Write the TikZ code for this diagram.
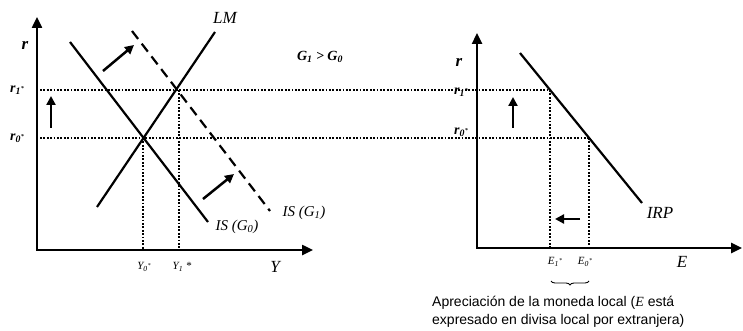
\documentclass[tikz,border=0pt]{standalone}
\usepackage{fontspec}
\setmainfont{Liberation Serif}
\setsansfont{Liberation Sans}
\usepackage{tikz}
\usetikzlibrary{positioning, arrows.meta, calc, decorations.pathreplacing}

\newcommand{\estr}{\raisebox{2pt}{\fontsize{6}{6}\selectfont*}}

\begin{document}
\begin{tikzpicture}[x=1pt, y=-1pt,
  axis/.style={line width=2.4pt, line join=miter, {Triangle[length=11pt, width=10pt]}-{Triangle[length=11pt, width=10pt]}},
  curve/.style={line width=2.2pt},
  shifted/.style={line width=2.2pt, dash pattern=on 10pt off 6pt},
  guide/.style={line width=2pt, dash pattern=on 1.8pt off 1.6pt},
  move/.style={line width=2.5pt, -{Triangle[length=9pt, width=9pt]}},
  lbl/.style={inner sep=0pt, font=\fontsize{15}{15}\selectfont\itshape},
  biglbl/.style={inner sep=0pt, font=\fontsize{17}{17}\selectfont\itshape},
  axlbl/.style={inner sep=0pt, font=\fontsize{17}{17}\selectfont\bfseries\itshape},
  lvl/.style={inner sep=0pt, font=\fontsize{14}{14}\selectfont\bfseries\itshape},
  tick/.style={inner sep=0pt, font=\fontsize{11}{11}\selectfont\itshape}]
    \useasboundingbox (0,0) rectangle (743,331);

    % Ejes IS-LM
    \coordinate (T1) at (37,17);
    \coordinate (X1) at (313,250);
    \draw[axis] (T1) |- (X1);
    \node[axlbl] (rA) at (25,45) {r};
    \node[biglbl] (Ylbl) at (275,267) {Y};

    % Ejes IRP
    \coordinate (T2) at (477,33);
    \coordinate (X2) at (742,248);
    \draw[axis] (T2) |- (X2);
    \node[axlbl] (rB) at (459,62) {r};
    \node[biglbl] (Elbl) at (682,262) {E};

    % Curvas
    \coordinate (LMa) at (97,207);
    \coordinate (LMb) at (215,32);
    \coordinate (ISa) at (70,42);
    \coordinate (ISb) at (208,222);
    \coordinate (ISc) at (132,31);
    \coordinate (ISd) at (270,211);
    \coordinate (IRPa) at (520,53);
    \coordinate (IRPb) at (642,203);
    \draw[curve] (LMa) -- (LMb);
    \draw[curve] (ISa) -- (ISb);
    \draw[shifted] (ISc) -- (ISd);
    \draw[curve] (IRPa) -- (IRPb);
    \node[biglbl] (LM) at (225,18) {LM};
    \node[lbl] (IS0) at (237,227) {IS (G\textsubscript{0})};
    \node[lbl] (IS1) at (304,213) {IS (G\textsubscript{1})};
    \node[biglbl] (IRP) at (660,213) {IRP};
    \node[inner sep=0pt, font=\fontsize{14}{14}\selectfont\bfseries\itshape] (G) at (320,57) {G\textsubscript{1} > G\textsubscript{0}};

    % Equilibrios
    \coordinate (A0) at (143,138);
    \coordinate (A1) at (179,90);
    \coordinate (B0) at (589,138);
    \coordinate (B1) at (550,90);
    \coordinate (r0s) at (40,138);
    \coordinate (r1s) at (40,90);
    \coordinate (Y0b) at (143,250);
    \coordinate (Y1b) at (179,250);
    \coordinate (E0b) at (589,248);
    \coordinate (E1b) at (550,248);
    \draw[guide] (r1s) -- (B1);
    \draw[guide] (r0s) -- (B0);
    \draw[guide] (A0) -- (Y0b);
    \draw[guide] (A1) -- (Y1b);
    \draw[guide] (B1) -- (E1b);
    \draw[guide] (B0) -- (E0b);
    \node[lvl] (r1L) at (17,90) {r\textsubscript{1}\estr};
    \node[lvl] (r0L) at (17,138) {r\textsubscript{0}\estr};
    \node[lvl] (r1R) at (461,92) {r\textsubscript{1}\estr};
    \node[lvl] (r0R) at (461,132) {r\textsubscript{0}\estr};
    \node[tick] (Y0) at (144,267) {Y\textsubscript{0}\estr};
    \node[tick] (Y1) at (182,267) {Y\textsubscript{1} *};
    \node[tick] (E1) at (555,262) {E\textsubscript{1}\estr};
    \node[tick] (E0) at (585,262) {E\textsubscript{0}\estr};

    % Desplazamientos
    \coordinate (u1) at (103,71);
    \coordinate (u2) at (134,45);
    \coordinate (d1) at (203,199);
    \coordinate (d2) at (234,174);
    \coordinate (p1) at (51,128);
    \coordinate (p2) at (51,96);
    \coordinate (q1) at (513,128);
    \coordinate (q2) at (513,97);
    \coordinate (e1) at (580,219);
    \coordinate (e2) at (555,219);
    \draw[move] (u1) -- (u2);
    \draw[move] (d1) -- (d2);
    \draw[move] (p1) -- (p2);
    \draw[move] (q1) -- (q2);
    \draw[move] (e1) -- (e2);

    % Apreciacion
    \coordinate (br1) at (551,281);
    \coordinate (br2) at (589,281);
    \draw[line width=0.9pt, decorate, decoration={brace, mirror, amplitude=4pt}] (br1) -- (br2);
    \node[anchor=west, align=left, inner sep=0pt, font=\sffamily\fontsize{14}{18}\selectfont] (nota) at (432,312)
        {Apreciación de la moneda local ({\rmfamily\itshape E} está\\expresado en divisa local por extranjera)};
\end{tikzpicture}
\end{document}
